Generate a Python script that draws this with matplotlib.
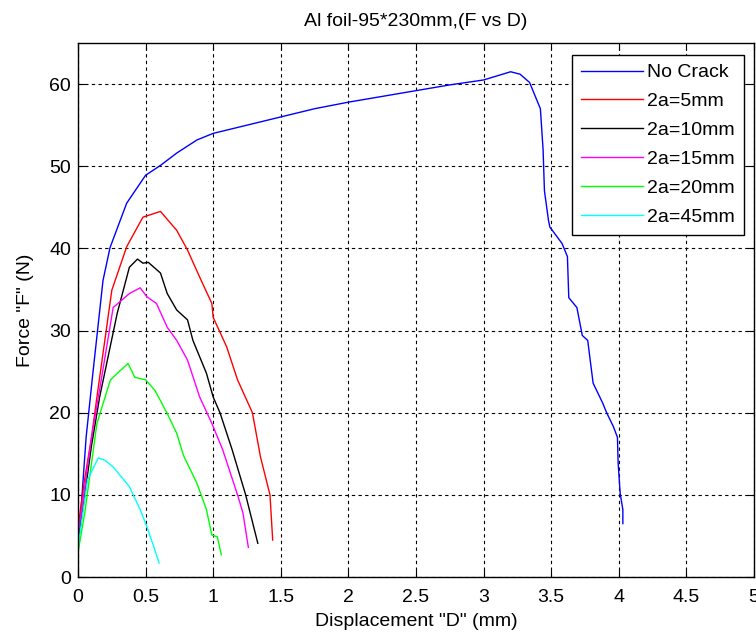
import numpy as np
import matplotlib.pyplot as plt

plt.rcParams['font.family'] = ['Liberation Sans', 'DejaVu Sans']

# curves (displacement mm, force N)
nc_x = [0.0, 0.03, 0.06, 0.11, 0.185, 0.237, 0.36, 0.5, 0.61, 0.73, 0.88, 1.0, 1.25, 1.5, 1.75,
        2.0, 2.25, 2.5, 2.75, 3.0, 3.1, 3.2, 3.27, 3.34, 3.42, 3.44, 3.45, 3.48, 3.49, 3.58, 3.62,
        3.63, 3.69, 3.73, 3.77, 3.81, 3.88, 3.91, 3.96, 3.99, 3.995, 4.01, 4.03, 4.03]
nc_y = [3.0, 10.0, 17.0, 24.8, 36.1, 40.1, 45.5, 48.9, 50.1, 51.6, 53.2, 54.0, 55.0, 56.0, 57.0,
        57.8, 58.5, 59.2, 59.9, 60.5, 61.0, 61.5, 61.2, 60.2, 57.0, 52.0, 47.0, 43.4, 42.6, 40.6, 39.0,
        34.0, 32.8, 29.4, 28.8, 23.6, 21.2, 20.0, 18.3, 17.0, 13.9, 10.2, 8.2, 6.5]

c5_x = [0.0, 0.05, 0.1, 0.14, 0.25, 0.36, 0.48, 0.61, 0.73, 0.81, 0.9, 0.99, 1.0, 1.1, 1.18, 1.29,
        1.35, 1.42, 1.44]
c5_y = [6.0, 12.0, 17.0, 21.9, 34.9, 40.2, 43.8, 44.5, 42.2, 39.8, 36.5, 33.3, 31.6, 28.0, 24.0, 20.0,
        14.6, 10.0, 4.5]

c10_x = [0.0, 0.05, 0.1, 0.16, 0.29, 0.38, 0.44, 0.48, 0.52, 0.61, 0.66, 0.73, 0.81, 0.85, 0.95, 1.0,
         1.05, 1.14, 1.24, 1.33]
c10_y = [4.0, 10.0, 16.0, 21.9, 32.1, 37.7, 38.7, 38.2, 38.3, 37.0, 34.5, 32.5, 31.3, 28.8, 24.8, 21.9,
         20.0, 15.5, 10.0, 4.1]

c15_x = [0.0, 0.05, 0.1, 0.18, 0.26, 0.38, 0.46, 0.51, 0.58, 0.66, 0.73, 0.81, 0.9, 0.99, 1.07, 1.18,
         1.22, 1.26]
c15_y = [5.0, 11.0, 17.0, 24.8, 32.8, 34.5, 35.2, 34.1, 33.3, 30.4, 28.8, 26.4, 21.9, 18.7, 15.5, 10.0,
         7.8, 3.6]

c20_x = [0.0, 0.05, 0.14, 0.24, 0.37, 0.42, 0.5, 0.57, 0.66, 0.73, 0.78, 0.88, 0.95, 0.99, 1.03, 1.06]
c20_y = [3.0, 7.8, 18.7, 24.0, 26.0, 24.3, 24.0, 22.7, 19.9, 17.5, 14.8, 11.4, 8.2, 5.1, 4.9, 2.7]

c45_x = [0.0, 0.07, 0.15, 0.2, 0.26, 0.31, 0.38, 0.46, 0.51, 0.56, 0.6]
c45_y = [3.6, 11.8, 14.5, 14.2, 13.4, 12.4, 11.0, 8.2, 6.1, 3.7, 1.7]

series = [
    (nc_x, nc_y, 'No Crack', '#0000ff'),
    (c5_x, c5_y, '2a=5mm', '#ff0000'),
    (c10_x, c10_y, '2a=10mm', '#000000'),
    (c15_x, c15_y, '2a=15mm', '#ff00ff'),
    (c20_x, c20_y, '2a=20mm', '#00ff00'),
    (c45_x, c45_y, '2a=45mm', '#00ffff'),
]

fig = plt.figure(figsize=(7.56, 6.35), dpi=100)
ax = fig.add_axes([78 / 756, 1 - 577 / 635, 676 / 756, 534 / 635])

for x, y, lab, col in series:
    ax.plot(x, y, color=col, lw=1.0, label=lab)

ax.set_xlim(0, 5)
ax.set_ylim(0, 65)
ax.set_xticks(np.arange(0, 5.01, 0.5))
ax.set_xticklabels(['0', '0.5', '1', '1.5', '2', '2.5', '3', '3.5', '4', '4.5', '5'])
ax.set_yticks(np.arange(0, 61, 10))
ax.grid(True, color='black', linestyle=(0, (3, 3)), linewidth=0.8)
ax.tick_params(direction='in', top=True, right=True, labelsize=14, length=5)
ax.tick_params(axis='x', pad=9)
ax.tick_params(axis='y', pad=5)
for s in ax.spines.values():
    s.set_linewidth(1.0)

ax.set_title('Al foil-95*230mm,(F vs D)', fontsize=14, pad=12)
ax.set_xlabel('Displacement "D" (mm)', fontsize=14, labelpad=5)
ax.set_ylabel('Force "F" (N)', fontsize=14, labelpad=11)

leg = ax.legend(loc='upper right', bbox_to_anchor=(0.985, 0.9775), fontsize=14,
                fancybox=False, edgecolor='black', framealpha=1, handlelength=3.2,
                handletextpad=0.2, borderaxespad=0, labelspacing=0.58, borderpad=0.45)
leg.get_frame().set_linewidth(1.0)

fig.savefig('out.png', dpi=100)
